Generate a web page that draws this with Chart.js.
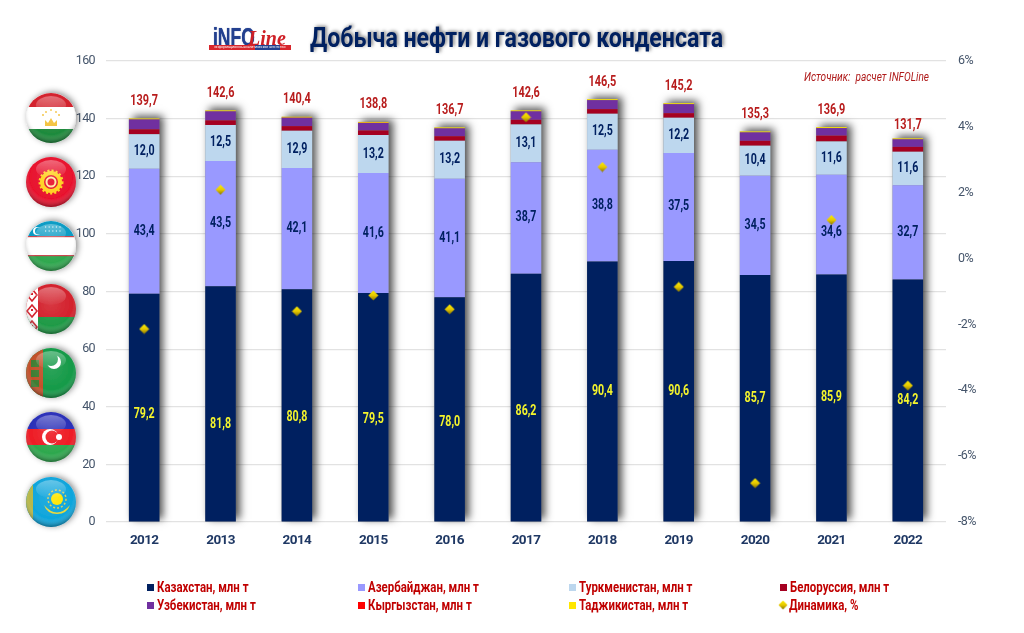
<!DOCTYPE html>
<html>
<head>
<meta charset="utf-8">
<script src="https://cdn.jsdelivr.net/npm/chart.js@4"></script>
<style>
    html, body { margin: 0; padding: 0; background: #fff; width: 1024px; height: 633px; overflow: hidden; }
    body { position: relative; font-family: Roboto, sans-serif; }
    canvas { position: absolute; left: 0; top: 0; }
    .narrow { display: inline-block; transform-origin: left center; white-space: pre; }
    #title { position: absolute; left: 310px; top: 22px; font-size: 27px; font-weight: bold; color: #002060; text-shadow: 2px -1px 4px rgba(0,0,0,.5); transform: scaleX(.856); }
    #logo { position: absolute; left: 209px; top: 24px; width: 84px; height: 28px; }
    #logo .info { position: absolute; left: 4px; top: -1px; font: bold 25px "Liberation Sans", sans-serif; color: #23408f; transform: scaleX(.7); transform-origin: left top; text-shadow: 0 0 1px #23408f; }
    #logo .line { position: absolute; left: 39px; top: 3px; font: italic bold 20px "Liberation Serif", serif; color: #cf2027; }
    #logo .strip { position: absolute; left: 0; top: 21px; width: 82px; height: 5px; background: linear-gradient(90deg, #d8262c 0 56%, #23408f 56% 86%, #d8262c 86%); color: #fff; font: 3.6px/5px "Liberation Sans", sans-serif; text-align: center; white-space: nowrap; overflow: hidden; }
    #source { position: absolute; left: 804px; top: 70px; font-size: 12px; font-style: italic; color: #b01c1c; transform: scaleX(.84); }
    #legend { position: absolute; left: 147px; top: 578px; display: grid; grid-template-columns: repeat(4, 211px); grid-auto-rows: 18px; font-size: 14px; font-weight: bold; color: #c00000; }
    #legend div { display: flex; align-items: center; white-space: nowrap; position: relative; }
    #legend i { display: inline-block; width: 7px; height: 7px; margin-right: 3px; flex: none; }
    #legend canvas { position: static; width: 10px; height: 10px; margin: 0 1px 0 -2px; flex: none; }
    #legend span { transform: scaleX(.817); transform-origin: left center; display: inline-block; }
    #flags { position: absolute; left: 0; top: 0; }
</style>
</head>
<body>
<canvas id="chart" width="1024" height="633"></canvas>
<svg id="flags" width="110" height="540" viewBox="0 0 110 540">
    <defs>
        <radialGradient id="gloss" cx="50%" cy="40%" r="60%">
            <stop offset="0" stop-color="#fff" stop-opacity=".1"/>
            <stop offset=".72" stop-color="#fff" stop-opacity="0"/>
            <stop offset="1" stop-color="#000" stop-opacity=".38"/>
        </radialGradient>
        <linearGradient id="shine" x1="0" y1="0" x2="0" y2="1">
            <stop offset="0" stop-color="#fff" stop-opacity=".35"/>
            <stop offset="1" stop-color="#fff" stop-opacity=".02"/>
        </linearGradient>
        <filter id="ds" x="-30%" y="-30%" width="160%" height="160%"><feDropShadow dx="2" dy="-1" stdDeviation="3" flood-color="#000" flood-opacity=".45"/></filter>
        <clipPath id="c"><circle cx="0" cy="0" r="25"/></clipPath>
        <g id="finish"><circle r="25" fill="url(#gloss)"/><ellipse cx="0" cy="-13" rx="15" ry="9" fill="url(#shine)"/></g>
    </defs>
    <!-- Таджикистан -->
    <g transform="translate(51,118)" filter="url(#ds)"><g clip-path="url(#c)">
        <rect x="-25" y="-25" width="50" height="50" fill="#fff"/><rect x="-25" y="-25" width="50" height="14" fill="#d3212c"/><rect x="-25" y="11" width="50" height="14" fill="#1e8a3c"/>
        <path d="M-6 8 L-6 2 L-3 5 L0 0 L3 5 L6 2 L6 8 Z" fill="#f3c23c"/>
        <circle cx="-8" cy="-3" r="1" fill="#f3c23c"/><circle cx="-5" cy="-6" r="1" fill="#f3c23c"/><circle cx="0" cy="-8" r="1" fill="#f3c23c"/><circle cx="5" cy="-6" r="1" fill="#f3c23c"/><circle cx="8" cy="-3" r="1" fill="#f3c23c"/>
    </g><use href="#finish"/></g>
    <!-- Киргизия -->
    <g transform="translate(51,182)" filter="url(#ds)"><g clip-path="url(#c)">
        <rect x="-25" y="-25" width="50" height="50" fill="#e8112d"/>
        <circle r="11" fill="#ffd21f" stroke="#ffd21f" stroke-dasharray="2 2" stroke-width="3"/><circle r="7" fill="#e8112d"/><circle r="4.5" fill="none" stroke="#ffe9a0" stroke-width="2"/>
    </g><use href="#finish"/></g>
    <!-- Узбекистан -->
    <g transform="translate(51,246)" filter="url(#ds)"><g clip-path="url(#c)">
        <rect x="-25" y="-25" width="50" height="50" fill="#fff"/><rect x="-25" y="-25" width="50" height="15" fill="#0a9bc4"/><rect x="-25" y="10" width="50" height="15" fill="#2fa84f"/>
        <rect x="-25" y="-10" width="50" height="1.2" fill="#c8454c"/><rect x="-25" y="9" width="50" height="1.2" fill="#c8454c"/>
        <circle cx="-14" cy="-15" r="4" fill="#fff"/><circle cx="-12.5" cy="-15" r="3.5" fill="#0a9bc4"/>
        <path d="M-6 -19h16M-6 -15h16" stroke="#fff" stroke-width="1.2" stroke-dasharray="1.2 2.4"/>
    </g><use href="#finish"/></g>
    <!-- Белоруссия -->
    <g transform="translate(51,309)" filter="url(#ds)"><g clip-path="url(#c)">
        <rect x="-25" y="-25" width="50" height="33" fill="#d3212c"/><rect x="-25" y="8" width="50" height="17" fill="#1f9a46"/>
        <rect x="-25" y="-25" width="12" height="50" fill="#fff"/><path d="M-19 -20 l5 6 l-5 6 l-5 -6 Z M-19 -4 l5 6 l-5 6 l-5 -6 Z M-19 12 l5 6 l-5 6 l-5 -6 Z" fill="none" stroke="#d3212c" stroke-width="1.6"/><path d="M-19 -16 v2 M-19 0 v2 M-19 16 v2" stroke="#d3212c" stroke-width="2"/>
    </g><use href="#finish"/></g>
    <!-- Туркмения -->
    <g transform="translate(51,373)" filter="url(#ds)"><g clip-path="url(#c)">
        <rect x="-25" y="-25" width="50" height="50" fill="#159a48"/><rect x="-25" y="-25" width="17" height="50" fill="#c2502a"/>
        <rect x="-20" y="-13" width="8" height="7" fill="#3f7d33"/><rect x="-20" y="-3" width="8" height="7" fill="#3f7d33"/><rect x="-20" y="7" width="8" height="7" fill="#3f7d33"/>
        <circle cx="3" cy="-11" r="7" fill="#fff"/><circle cx="0" cy="-14" r="7" fill="#159a48"/>
    </g><use href="#finish"/></g>
    <!-- Азербайджан -->
    <g transform="translate(51,437)" filter="url(#ds)"><g clip-path="url(#c)">
        <rect x="-25" y="-25" width="50" height="17" fill="#2a2fb8"/><rect x="-25" y="-8" width="50" height="16" fill="#ee1c25"/><rect x="-25" y="8" width="50" height="17" fill="#2ea84e"/>
        <circle cx="-1" cy="0" r="8" fill="#fff"/><circle cx="1" cy="0" r="6.5" fill="#ee1c25"/><circle cx="8" cy="0" r="3" fill="#fff"/>
    </g><use href="#finish"/></g>
    <!-- Казахстан -->
    <g transform="translate(51,502)" filter="url(#ds)"><g clip-path="url(#c)">
        <rect x="-25" y="-25" width="50" height="50" fill="#0fa5dc"/><rect x="-25" y="-25" width="7" height="50" fill="#b7b84a"/>
        <circle cx="6" cy="-3" r="6" fill="#ffe600"/><path d="M-7 3 Q6 18 19 3 Q16 12 6 12 Q-4 12 -7 3 Z" fill="#e8d83c"/><circle cx="6" cy="-3" r="9" fill="none" stroke="#d8cf5a" stroke-width="1.5" stroke-dasharray="2 2"/>
    </g><use href="#finish"/></g>
</svg>
<div id="logo"><span class="info">iNFO</span><span class="line">Line</span><div class="strip">информационно-аналитическое агентство</div></div>
<div id="title" class="narrow">Добыча нефти и газового конденсата</div>
<div id="source" class="narrow">Источник:  расчет INFOLine</div>
<div id="legend"></div>
<script>
const FONT = 'Roboto, sans-serif';

const years = ['2012', '2013', '2014', '2015', '2016', '2017', '2018', '2019', '2020', '2021', '2022'];
const kazakhstan = [79.2, 81.8, 80.8, 79.5, 78.0, 86.2, 90.4, 90.6, 85.7, 85.9, 84.2];
const azerbaijan = [43.4, 43.5, 42.1, 41.6, 41.1, 38.7, 38.8, 37.5, 34.5, 34.6, 32.7];
const turkmenistan = [12.0, 12.5, 12.9, 13.2, 13.2, 13.1, 12.5, 12.2, 10.4, 11.6, 11.6];
const belarus = [1.7, 1.6, 1.6, 1.6, 1.6, 1.6, 1.6, 1.6, 1.7, 2.0, 1.7];
const uzbekistan = [3.4, 3.1, 2.9, 2.6, 2.7, 2.9, 3.1, 3.1, 2.9, 2.6, 2.6];
const kyrgyzstan = [0.05, 0.05, 0.05, 0.05, 0.05, 0.05, 0.05, 0.05, 0.05, 0.05, 0.05];
const tajikistan = [0.3, 0.3, 0.3, 0.3, 0.3, 0.3, 0.3, 0.3, 0.3, 0.3, 0.3];
const dynamics = [-2.14, 2.09, -1.6, -1.12, -1.54, 4.29, 2.78, -0.86, -6.82, 1.17, -3.86];
const totals = [139.7, 142.6, 140.4, 138.8, 136.7, 142.6, 146.5, 145.2, 135.3, 136.9, 131.7];

// some labels in the original are moved down so they clear the diamonds
const labelShift = {
    0: [7, 21, 12, 12, 13, 14, 0, 0, 0, 0, 0],
    1: [0, 0, 0, 0, 0, 0, 0, 0, 0, 8, 0]
};

// labels on the bars use a comma as decimal mark
const fmt = v => v.toFixed(1).replace('.', ',');

// Roboto is wider than the original's condensed face, so squeeze it
function narrowText(ctx, text, x, y, squeeze) {
    ctx.save();
    ctx.translate(x, y);
    ctx.scale(squeeze, 1);
    ctx.fillText(text, 0, 0);
    ctx.restore();
}

const diamond = document.createElement('canvas');
diamond.width = diamond.height = 11;
(() => {
    const c = diamond.getContext('2d');
    const g = c.createLinearGradient(0, 0, 0, 11);
    g.addColorStop(0, '#fff200');
    g.addColorStop(0.5, '#e6c800');
    g.addColorStop(1, '#7d6c00');
    c.fillStyle = g;
    c.beginPath();
    c.moveTo(5.5, 0.5);
    c.lineTo(10.5, 5.5);
    c.lineTo(5.5, 10.5);
    c.lineTo(0.5, 5.5);
    c.closePath();
    c.fill();
})();

const tightTicks = {
    id: 'tightTicks',
    beforeDraw(chart) { chart.ctx.letterSpacing = '-0.6px'; }
};

const barShadow = {
    id: 'barShadow',
    beforeDatasetsDraw(chart) {
        const ctx = chart.ctx;
        const bottom = chart.getDatasetMeta(0).data;
        const top = chart.getDatasetMeta(6).data;
        ctx.save();
        ctx.shadowColor = 'rgba(0,0,0,0.7)';
        ctx.shadowBlur = 8;
        ctx.shadowOffsetX = 4;
        ctx.shadowOffsetY = -2;
        ctx.fillStyle = '#888';
        bottom.forEach((bar, i) => {
            const w = bar.width;
            ctx.fillRect(bar.x - w / 2, top[i].y, w, bar.base - top[i].y);
        });
        ctx.restore();
    }
};

const barLabels = {
    id: 'barLabels',
    afterDatasetsDraw(chart) {
        const ctx = chart.ctx;
        ctx.save();
        ctx.letterSpacing = '0px';
        ctx.textAlign = 'center';
        ctx.textBaseline = 'middle';
        ctx.font = 'bold 14px ' + FONT;
        chart.data.datasets.forEach((ds, d) => {
            if (!ds.labelColor) return;
            ctx.fillStyle = ds.labelColor;
            const shift = labelShift[d];
            chart.getDatasetMeta(d).data.forEach((bar, i) => {
                narrowText(ctx, fmt(ds.data[i]), bar.x, (bar.y + bar.base) / 2 + (shift ? shift[i] : 0), 0.76);
            });
        });
        const y = chart.scales.y;
        ctx.fillStyle = '#b81c1c';
        totals.forEach((t, i) => {
            narrowText(ctx, fmt(t), chart.scales.x.getPixelForValue(i), y.getPixelForValue(t) - 17.5, 0.78);
        });
        ctx.restore();
    }
};

function stacked(label, data, color, labelColor) {
    return { label, data, backgroundColor: color, labelColor, stack: 's', yAxisID: 'y', order: 2, barPercentage: 0.4, categoryPercentage: 1 };
}

const chart = new Chart(document.getElementById('chart').getContext('2d'), {
    type: 'bar',
    data: {
        labels: years,
        datasets: [
            stacked('Казахстан, млн т', kazakhstan, '#002060', '#f4f42c'),
            stacked('Азербайджан, млн т', azerbaijan, '#9999ff', '#002060'),
            stacked('Туркменистан, млн т', turkmenistan, '#bdd7ee', '#002060'),
            stacked('Белоруссия, млн т', belarus, '#a50021'),
            stacked('Узбекистан, млн т', uzbekistan, '#7030a0'),
            stacked('Кыргызстан, млн т', kyrgyzstan, '#ff0000'),
            stacked('Таджикистан, млн т', tajikistan, '#ffe600'),
            {
                type: 'line',
                label: 'Динамика, %',
                data: dynamics,
                yAxisID: 'y1',
                order: 1,
                showLine: false,
                pointStyle: diamond
            }
        ]
    },
    options: {
        responsive: false,
        animation: false,
        layout: { padding: { top: 61 } },
        plugins: { legend: { display: false }, title: { display: false }, tooltip: { enabled: false } },
        scales: {
            x: {
                stacked: true,
                grid: { display: false },
                border: { display: false },
                ticks: { color: '#1f3864', font: { family: FONT, size: 13.5, weight: 'bold' }, padding: 3 },
                afterFit(a) { a.height = 111; }
            },
            y: {
                stacked: true,
                min: 0,
                max: 160,
                ticks: { stepSize: 20, color: '#44546a', font: { family: FONT, size: 12.5 }, padding: 11 },
                grid: { color: '#e2e2e2', lineWidth: 1.2, drawTicks: false },
                border: { display: false },
                afterFit(a) { a.width = 106; }
            },
            y1: {
                position: 'right',
                min: -8,
                max: 6,
                ticks: { stepSize: 2, color: '#44546a', font: { family: FONT, size: 12.5 }, padding: 12, callback: v => v + '%' },
                grid: { display: false, drawTicks: false },
                border: { display: false },
                afterFit(a) { a.width = 78; }
            }
        }
    },
    plugins: [tightTicks, barShadow, barLabels]
});

// legend goes in four fixed columns, dataset order as in the chart
const legendEl = document.getElementById('legend');
chart.data.datasets.forEach(ds => {
    const item = document.createElement('div');
    if (ds.type === 'line') {
        const mark = document.createElement('canvas');
        mark.width = mark.height = 11;
        mark.getContext('2d').drawImage(diamond, 0, 0);
        item.appendChild(mark);
    } else {
        const box = document.createElement('i');
        box.style.background = ds.backgroundColor;
        item.appendChild(box);
    }
    const text = document.createElement('span');
    text.textContent = ds.label;
    item.appendChild(text);
    legendEl.appendChild(item);
});
</script>
</body>
</html>
